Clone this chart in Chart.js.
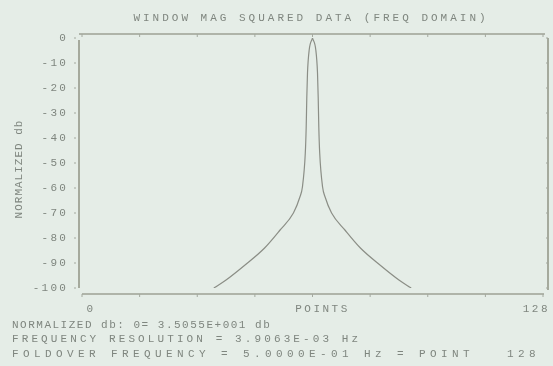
<!DOCTYPE html>
<html>
<head>
<meta charset="utf-8">
<script src="https://cdn.jsdelivr.net/npm/chart.js@4"></script>
<style>
  html, body { margin: 0; padding: 0; background: #e5ede7; }
  #wrap { width: 553px; height: 366px; position: relative; }
</style>
</head>
<body>
<div id="wrap"><canvas id="myChart" width="553" height="366"></canvas></div>
<script>
// point index (x) and normalized dB (y); split at the peak so the tip stays sharp
const leftPoints = [36.6, 40, 45.1, 50.7, 55, 58.7, 60.5, 61.2, 62, 62.25, 62.42, 62.61, 63.08, 64];
const leftDb = [-100, -96.8, -91, -84, -76.8, -70, -63.6, -59.6, -46, -35.6, -23.6, -14, -4.8, 0];
const rightPoints = [64, 64.92, 65.39, 65.58, 65.75, 66, 66.8, 67.5, 69.3, 73, 77.3, 82.9, 88, 91.4];
const rightDb = [0, -4.8, -14, -23.6, -35.6, -46, -59.6, -63.6, -70, -76.8, -84, -91, -96.8, -100];
const yTicks = [0, -10, -20, -30, -40, -50, -60, -70, -80, -90, -100];
const xTicks = [0, 16, 32, 48, 64, 80, 96, 112, 128];

const chartTitle = 'WINDOW MAG SQUARED DATA (FREQ DOMAIN)';
const yTitle = 'NORMALIZED db';
const xTitle = 'POINTS';
const footLines = [
    'NORMALIZED db: 0= 3.5055E+001 db',
    'FREQUENCY RESOLUTION = 3.9063E-03 Hz',
    'FOLDOVER FREQUENCY = 5.0000E-01 Hz = POINT   128'
];
const footSpacing = [1.5, 3.1, 4.4];

const inkColor = '#7f867f';
const frameColor = '#7b7d6c';
const fontName = '"Liberation Mono", "DejaVu Sans Mono", monospace';

function drawText(ctx, txt, x, y, align, size, spacing) {
    ctx.font = size + 'px ' + fontName;
    ctx.letterSpacing = spacing + 'px';
    ctx.textBaseline = 'middle';
    let w = ctx.measureText(txt).width;
    let sx = x;
    if (align == 'center') sx = x - w / 2;
    if (align == 'right') sx = x - w;
    ctx.textAlign = 'left';
    ctx.fillText(txt, sx, y);
}

function toXY(xs, ys) {
    return xs.map(function (p, i) { return { x: p, y: ys[i] }; });
}

const plotterFrame = {
    id: 'plotterFrame',
    beforeDraw(chart) {
        const ctx = chart.ctx;
        ctx.save();
        ctx.fillStyle = '#e5ede7';
        ctx.fillRect(0, 0, chart.width, chart.height);
        ctx.restore();
    },
    afterDraw(chart) {
        const ctx = chart.ctx;
        const a = chart.chartArea;
        const xs = chart.scales.x;
        const ys = chart.scales.y;
        ctx.save();
        ctx.strokeStyle = frameColor;
        ctx.lineWidth = 1.2;
        ctx.beginPath();
        ctx.moveTo(a.left - 3, a.top - 4); ctx.lineTo(a.right + 2, a.top - 4);
        ctx.moveTo(a.left, a.bottom + 6); ctx.lineTo(a.right + 1, a.bottom + 6);
        ctx.moveTo(a.left - 3, a.top + 2); ctx.lineTo(a.left - 3, a.bottom);
        ctx.moveTo(a.right + 5, a.top); ctx.lineTo(a.right + 5, a.bottom + 2);
        ctx.stroke();

        // small tick marks
        ctx.lineWidth = 1;
        ctx.strokeStyle = '#a3a89e';
        ctx.beginPath();
        xTicks.forEach(function (v) {
            let px = xs.getPixelForValue(v);
            ctx.moveTo(px, a.top - 4); ctx.lineTo(px, a.top - 1);
            ctx.moveTo(px, a.bottom + 6); ctx.lineTo(px, a.bottom + 9);
        });
        yTicks.forEach(function (v) {
            let py = ys.getPixelForValue(v);
            ctx.moveTo(a.left - 8, py); ctx.lineTo(a.left - 6, py);
            ctx.moveTo(a.right + 5, py); ctx.lineTo(a.right + 3, py);
        });
        ctx.stroke();

        ctx.fillStyle = inkColor;
        yTicks.forEach(function (v) {
            drawText(ctx, String(v), a.left - 14, ys.getPixelForValue(v), 'right', 11, 2.2);
        });
        drawText(ctx, '0', xs.getPixelForValue(0) + 9, a.bottom + 21, 'center', 11, 2.5);
        drawText(ctx, '128', xs.getPixelForValue(128) + 7, a.bottom + 21, 'right', 11, 2.5);
        drawText(ctx, xTitle, xs.getPixelForValue(64) + 10, a.bottom + 21, 'center', 11, 2.5);
        drawText(ctx, chartTitle, 311, 18, 'center', 11, 3.0);
        footLines.forEach(function (t, i) {
            drawText(ctx, t, 12, a.bottom + 37 + i * 14.3, 'left', 11, footSpacing[i]);
        });

        ctx.translate(19, 169);
        ctx.rotate(-Math.PI / 2);
        drawText(ctx, yTitle, 0, 0, 'center', 11, 1.0);
        ctx.restore();
    }
};

const lineStyle = {
    borderColor: '#8b8e86',
    borderWidth: 1.2,
    pointRadius: 0,
    fill: false,
    cubicInterpolationMode: 'monotone'
};

const ctx = document.getElementById('myChart').getContext('2d');
const chartInstance = new Chart(ctx, {
    type: 'line',
    data: {
        datasets: [
            Object.assign({ data: toXY(leftPoints, leftDb) }, lineStyle),
            Object.assign({ data: toXY(rightPoints, rightDb) }, lineStyle)
        ]
    },
    options: {
        responsive: false,
        animation: false,
        layout: {
            padding: { left: 82, right: 10, top: 38, bottom: 78 }
        },
        scales: {
            x: { type: 'linear', min: 0, max: 128, display: false },
            y: { type: 'linear', min: -100, max: 0, display: false }
        },
        plugins: {
            legend: { display: false },
            tooltip: { enabled: false }
        }
    },
    plugins: [plotterFrame]
});
</script>
</body>
</html>
